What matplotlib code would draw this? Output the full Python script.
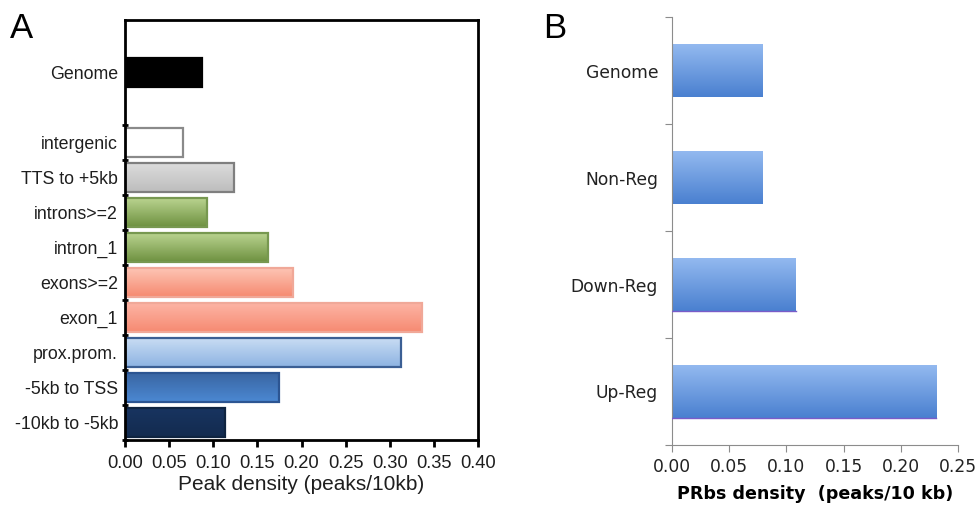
import numpy as np
import matplotlib
matplotlib.use('Agg')
import matplotlib.pyplot as plt
from matplotlib.colors import LinearSegmentedColormap

# panel A data (top to bottom)
labels_a=['Genome','intergenic','TTS to +5kb','introns>=2','intron_1',
          'exons>=2','exon_1','prox.prom.','-5kb to TSS','-10kb to -5kb']
pos_a=[10,8,7,6,5,4,3,2,1,0]
vals_a=[0.087,0.066,0.123,0.093,0.162,0.190,0.337,0.313,0.174,0.113]
# (top colour, bottom colour, edge colour)
cols_a=[('#000000','#000000','#000000'),
        ('#ffffff','#ffffff','#8a8a8a'),
        ('#dcdcdc','#bdbdbd','#7f7f7f'),
        ('#b9d38f','#6e9140','#779850'),
        ('#b9d38f','#6e9140','#779850'),
        ('#fdc4b4','#f68a70','#f0a898'),
        ('#fdb4a4','#f68a72','#f0a898'),
        ('#c8dcf3','#8db3e2','#3b5f94'),
        ('#3a66a3','#4b88d2','#2c5592'),
        ('#183460','#132b4f','#0f2440')]

# panel B data (top to bottom)
labels_b=['Genome','Non-Reg','Down-Reg','Up-Reg']
pos_b=[3,2,1,0]
vals_b=[0.079,0.079,0.108,0.231]

def grad_fill(ax,bar,top,bottom):
    x,y=bar.get_x(),bar.get_y()
    w,h=bar.get_width(),bar.get_height()
    cm=LinearSegmentedColormap.from_list('g',[bottom,top])
    im=ax.imshow(np.linspace(0,1,64).reshape(-1,1),cmap=cm,origin='lower',
                 extent=[x,x+w,y,y+h],aspect='auto',zorder=1,interpolation='bilinear')
    im.set_clip_path(bar)

fig=plt.figure(figsize=(9.79,5.07),dpi=100)

#Panel A
axa=fig.add_axes([125/979,1-440/507,353/979,420/507])
bars=axa.barh(pos_a,vals_a,height=0.82,zorder=2)
for b,(top,bot,edge) in zip(bars,cols_a):
    b.set_facecolor('none')
    b.set_edgecolor(edge)
    b.set_linewidth(1.6)
    grad_fill(axa,b,top,bot)
axa.set_xlim(0,0.40)
axa.set_ylim(-0.5,11.5)
axa.set_xticks(np.arange(0,0.401,0.05))
axa.set_xticklabels(['%.2f'%v for v in np.arange(0,0.401,0.05)],
                    family='Liberation Sans',fontsize=13.2,color='#1e1e1e')
axa.tick_params(axis='x',direction='out',length=5,width=2,pad=6)
axa.set_yticks(np.arange(-0.5,9.0,1.0))
axa.set_yticklabels([])
axa.tick_params(axis='y',which='major',direction='inout',length=4,width=2)
axa.set_yticks(pos_a,minor=True)
axa.set_yticklabels(labels_a,minor=True,family='Liberation Sans',fontsize=12.8,color='#1e1e1e')
axa.tick_params(axis='y',which='minor',length=0,pad=5)
for s in axa.spines.values():
    s.set_linewidth(2)
axa.set_xlabel('Peak density (peaks/10kb)',family='Liberation Sans',fontsize=15,
               labelpad=2,color='#1e1e1e')

#Panel B
axb=fig.add_axes([672/979,1-445/507,286/979,428/507])
bars=axb.barh(pos_b,vals_b,height=0.5,zorder=2)
for b in bars:
    b.set_facecolor('none')
    b.set_edgecolor('none')
    grad_fill(axb,b,'#94baf0','#4a80d0')
# thin purple base line under the two regulated bars
for p,v in zip(pos_b[2:],vals_b[2:]):
    axb.plot([0,v],[p-0.25,p-0.25],color='#7a5cc8',lw=1,zorder=3)
axb.set_xlim(0,0.25)
axb.set_ylim(-0.5,3.5)
axb.spines['top'].set_visible(False)
axb.spines['right'].set_visible(False)
for s in ['left','bottom']:
    axb.spines[s].set_color('#8c8c8c')
axb.set_xticks(np.arange(0,0.251,0.05))
axb.set_xticklabels(['%.2f'%v for v in np.arange(0,0.251,0.05)],fontsize=12.3,color='#222222')
axb.tick_params(axis='x',direction='out',length=5,color='#8c8c8c',pad=4)
axb.set_yticks(np.arange(-0.5,3.6,1.0))
axb.set_yticklabels([])
axb.tick_params(axis='y',which='major',direction='out',length=5,color='#8c8c8c')
axb.set_yticks(pos_b,minor=True)
axb.set_yticklabels(labels_b,minor=True,fontsize=12.3,color='#222222')
axb.tick_params(axis='y',which='minor',length=0,pad=10)
axb.set_xlabel('PRbs density  (peaks/10 kb)',fontsize=12.6,fontweight='bold',labelpad=7)

fig.text(10/979,1-38/507,'A',fontsize=25,family='Liberation Sans')
fig.text(543/979,1-38/507,'B',fontsize=25,family='Liberation Sans')

fig.savefig('out.png',dpi=100)
